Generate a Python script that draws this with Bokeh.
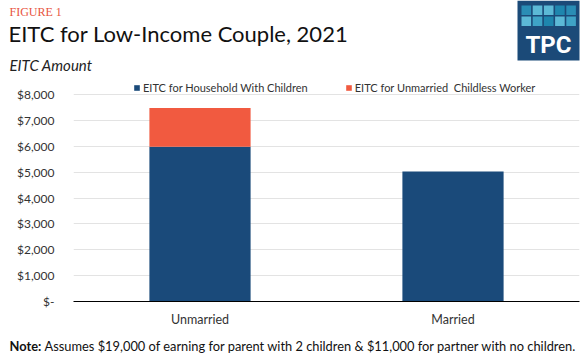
from bokeh.plotting import figure
from bokeh.layouts import column
from bokeh.models import (ColumnDataSource, Legend, LegendItem, Label, BoxAnnotation,
                          FixedTicker, Range1d)
from bokeh.embed import file_html
from bokeh.resources import INLINE

# ---- data ----
categories = ["Unmarried", "Married"]
household_with_children = [5980, 5026]
unmarried_childless = [1502, 0]
series_names = ["EITC for Household With Children", "EITC for Unmarried  Childless Worker"]
y_ticks = [0, 1000, 2000, 3000, 4000, 5000, 6000, 7000, 8000]
y_tick_labels = ["$-", "$1,000", "$2,000", "$3,000", "$4,000", "$5,000", "$6,000", "$7,000", "$8,000"]

BLUE = "#1a4a7a"
ORANGE = "#f15a40"
FONT = "Lato"
W = 582
HEAD_H = 80
MAIN_H = 255
FOOT_H = 356 - HEAD_H - MAIN_H
BOTTOM_BORDER = 34
FRAME_H = MAIN_H - BOTTOM_BORDER          # frame spans header bottom to x axis
GRID_H = 207                               # pixels from $0 to $8,000
Y_MAX = y_ticks[-1] * FRAME_H / GRID_H     # room above $8,000 for the legend


def blank(h):
    f = figure(width=W, height=h, x_range=Range1d(0, W), y_range=Range1d(0, h),
               output_backend="svg", toolbar_location=None, min_border=0,
               frame_align=False)
    f.axis.visible = False
    f.grid.visible = False
    f.outline_line_color = None
    return f


def label(f, h, x, y_top, text, **kw):
    # y_top measured from the top of figure f
    f.add_layout(Label(x=x, y=h - y_top, x_units="screen", y_units="screen", text=text,
                       text_baseline="middle", **kw))


# ---- header ----
head = blank(HEAD_H)
label(head, HEAD_H, 9, 11, "FIGURE 1", text_font="Liberation Serif", text_font_size="12px",
      text_color="#e8553e")
label(head, HEAD_H, 8, 33, "EITC for Low-Income Couple, 2021", text_font=FONT,
      text_font_size="22px", text_color="#111111")
label(head, HEAD_H, 9, 64, "EITC Amount", text_font=FONT, text_font_size="15px",
      text_font_style="italic", text_color="#222222")


def box(f, h, l, r, t, b, color):
    f.add_layout(BoxAnnotation(left=l, right=r, top=h - t, bottom=h - b,
                               left_units="screen", right_units="screen",
                               top_units="screen", bottom_units="screen",
                               fill_color=color, fill_alpha=1, line_color=None))


box(head, HEAD_H, 517, 579, 0, 60, "#1b4a78")
sq_colors = [["#2a8db5", "#5cb9d6", "#5cb9d6", "#1e86ae", "#2a8db5"],
             ["#5cb9d6", "#3fa3c6", "#1e86ae", "#5cb9d6", "#3fa3c6"]]
for ri, row in enumerate(sq_colors):
    for ci, col in enumerate(row):
        l = 521 + ci * 11.2
        t = 5 + ri * 11
        box(head, HEAD_H, l, l + 9.6, t, t + 9.5, col)
label(head, HEAD_H, 548, 44, "TPC", text_font="Roboto", text_font_size="24px",
      text_font_style="bold", text_color="white", text_align="center")

# ---- main chart ----
src = ColumnDataSource(dict(cat=categories, a=household_with_children, b=unmarried_childless))

p = figure(width=W, height=MAIN_H, x_range=categories, y_range=Range1d(0, Y_MAX),
           output_backend="svg", toolbar_location=None, frame_align=False,
           min_border_left=73, min_border_right=3, min_border_top=0,
           min_border_bottom=BOTTOM_BORDER)
p.outline_line_color = None

r = p.vbar_stack(["a", "b"], x="cat", width=0.4, source=src, color=[BLUE, ORANGE], line_color=None)

p.yaxis.ticker = FixedTicker(ticks=y_ticks)
p.yaxis.major_label_overrides = {t: l for t, l in zip(y_ticks, y_tick_labels)}
p.yaxis.axis_line_color = None
p.yaxis.major_tick_line_color = None
p.yaxis.minor_tick_line_color = None
p.yaxis.major_label_standoff = 13
p.yaxis.major_label_text_font = FONT
p.yaxis.major_label_text_font_size = "12px"
p.yaxis.major_label_text_color = "#333333"

p.xaxis.axis_line_color = "black"
p.xaxis.axis_line_width = 1
p.xaxis.major_tick_line_color = None
p.xaxis.minor_tick_line_color = None
p.xaxis.major_label_standoff = 4
p.xaxis.major_label_text_font = FONT
p.xaxis.major_label_text_font_size = "12.5px"
p.xaxis.major_label_text_color = "#333333"

p.xgrid.grid_line_color = None
p.ygrid.grid_line_color = "#e3e3e3"
p.ygrid.grid_line_width = 1

legend = Legend(items=[LegendItem(label=series_names[0], renderers=[r[0]]),
                       LegendItem(label=series_names[1], renderers=[r[1]])],
                location=(60, FRAME_H - 14), orientation="horizontal",
                glyph_width=7, glyph_height=7, label_height=12, label_standoff=3,
                spacing=37, padding=0, margin=0,
                label_text_font=FONT, label_text_font_size="11px", label_text_color="#333333",
                background_fill_alpha=0, border_line_color=None)
p.add_layout(legend, "center")

# ---- footer ----
foot = blank(FOOT_H)
label(foot, FOOT_H, 9, 10, "Note:", text_font=FONT, text_font_size="12.85px",
      text_font_style="bold", text_color="#111111")
label(foot, FOOT_H, 44, 10,
      "Assumes $19,000 of earning for parent with 2 children & $11,000 for partner with no children.",
      text_font=FONT, text_font_size="12.85px", text_color="#111111")

layout = column(head, p, foot, spacing=0)
open("out.html", "w").write(file_html(layout, INLINE))
